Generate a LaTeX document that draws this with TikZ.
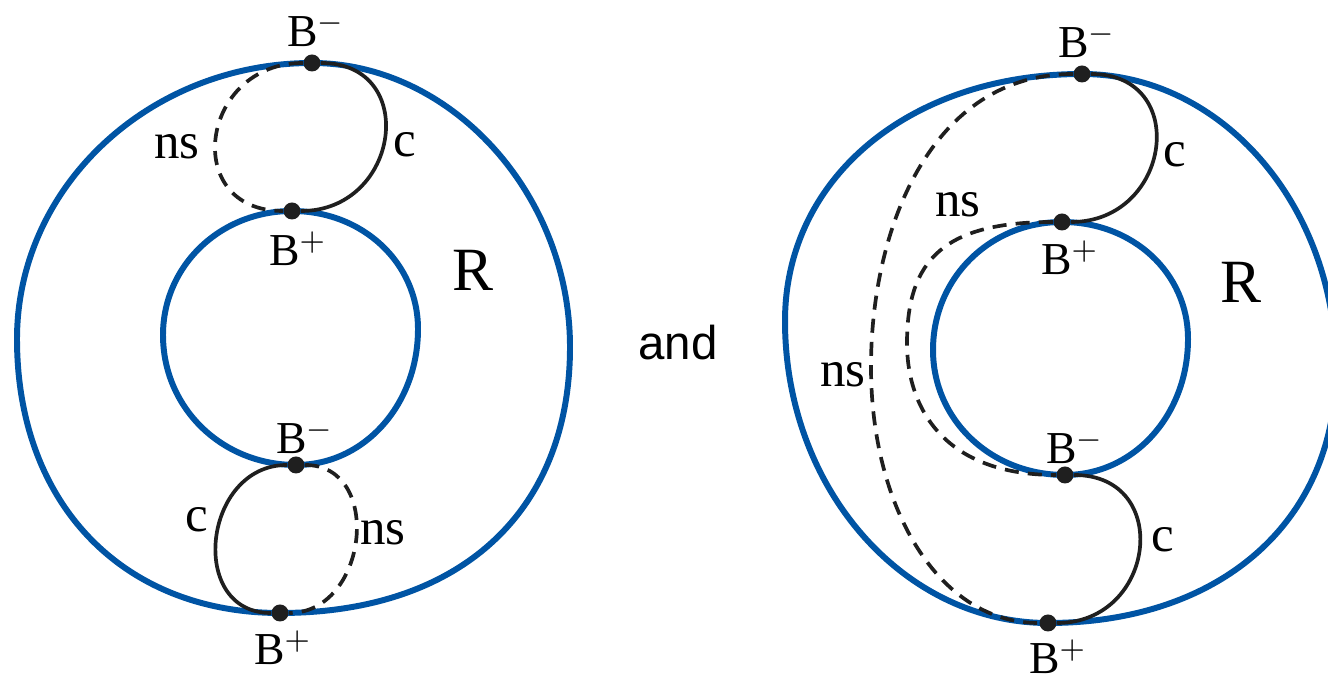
\documentclass[tikz,border=0pt]{standalone}
\usepackage{fontspec}
\setmainfont{Liberation Serif}
\newfontfamily\andfont{Liberation Sans}
\usetikzlibrary{positioning}
\definecolor{ringblue}{RGB}{0,84,164}
\tikzset{
  ring/.style={ringblue,line width=1.7pt},
  cpath/.style={black!88,line width=1.05pt},
  nspath/.style={cpath,dash pattern=on 4pt off 2.6pt},
  bdot/.style={circle,fill=black!88,inner sep=0pt,minimum size=0.17cm},
  blab/.style={inner sep=0pt,font=\fontsize{13}{15}\selectfont},
  clab/.style={inner sep=0pt,font=\fontsize{14.5}{17}\selectfont},
}

\begin{document}
\begin{tikzpicture}
  \useasboundingbox (0,0) rectangle (13.28,6.79);
  % left region
  \draw[ring] (3.12,6.16) .. controls (4.51,6.16) and (5.70,4.85) .. (5.70,3.32)
    .. controls (5.70,1.67) and (4.60,0.66) .. (2.80,0.66)
    .. controls (1.22,0.66) and (0.17,1.76) .. (0.17,3.40)
    .. controls (0.17,4.92) and (1.49,6.16) .. cycle;
  \draw[ring] (2.92,4.68) .. controls (3.63,4.68) and (4.18,4.16) .. (4.18,3.50)
    .. controls (4.18,2.74) and (3.64,2.14) .. (2.96,2.14)
    .. controls (2.22,2.14) and (1.63,2.71) .. (1.63,3.44)
    .. controls (1.63,4.13) and (2.20,4.68) .. cycle;
  \node[bdot] (lBmA) at (3.12,6.16) {};
  \node[bdot] (lBpA) at (2.92,4.68) {};
  \node[bdot] (lBmB) at (2.96,2.14) {};
  \node[bdot] (lBpB) at (2.80,0.66) {};
  \draw[cpath] (lBmA) .. controls +(1.08,0) and +(1.08,0) .. (lBpA);
  \draw[nspath] (lBmA) .. controls +(-1.12,0) and +(-1.12,0) .. (lBpA);
  \draw[cpath] (lBmB) .. controls +(-0.93,0) and +(-0.93,0) .. (lBpB);
  \draw[nspath] (lBmB) .. controls +(0.88,0) and +(0.88,0) .. (lBpB);
  \node[blab] (lLmA) at (3.16,6.49) {B$^{-}$};
  \node[blab] (lLpA) at (2.98,4.30) {B$^{+}$};
  \node[blab] (lLmB) at (3.05,2.42) {B$^{-}$};
  \node[blab] (lLpB) at (2.83,0.31) {B$^{+}$};
  \node[clab] (lNsA) at (1.77,5.32) {ns};
  \node[clab] (lCA) at (4.05,5.34) {c};
  \node[clab] (lCB) at (1.97,1.59) {c};
  \node[clab] (lNsB) at (3.83,1.46) {ns};
  \node[clab,font=\fontsize{17.5}{20}\selectfont] (lR) at (4.73,4.09) {R};

  \node[font=\andfont\fontsize{13.5}{16}\selectfont] (and) at (6.78,3.36) {and};

  % right region
  \draw[ring] (10.82,6.05) .. controls (12.22,6.05) and (13.36,4.73) .. (13.36,3.10)
    .. controls (13.36,1.58) and (12.21,0.56) .. (10.48,0.56)
    .. controls (9.03,0.56) and (7.85,1.91) .. (7.85,3.58)
    .. controls (7.85,5.01) and (9.10,6.05) .. cycle;
  \draw[ring] (10.62,4.57) .. controls (11.33,4.57) and (11.88,4.06) .. (11.88,3.40)
    .. controls (11.88,2.64) and (11.34,2.04) .. (10.65,2.04)
    .. controls (9.91,2.04) and (9.33,2.59) .. (9.33,3.29)
    .. controls (9.33,4.01) and (9.90,4.57) .. cycle;
  \node[bdot] (rBmA) at (10.82,6.05) {};
  \node[bdot] (rBpA) at (10.62,4.57) {};
  \node[bdot] (rBmB) at (10.65,2.04) {};
  \node[bdot] (rBpB) at (10.48,0.56) {};
  \coordinate (rOuterW) at (8.71,3.12);
  \coordinate (rInnerW) at (9.07,3.36);
  \draw[cpath] (rBmA) .. controls +(1.09,0) and +(1.09,0) .. (rBpA);
  \draw[cpath] (rBmB) .. controls +(1.08,0) and +(1.08,0) .. (rBpB);
  \draw[nspath] (rBmA) .. controls +(-1.5,0) and +(0,1.4) .. (rOuterW)
    .. controls +(0,-1.4) and +(-1.1,0) .. (rBpB);
  \draw[nspath] (rBpA) .. controls +(-1.17,0) and +(0,0.84) .. (rInnerW)
    .. controls +(0,-0.66) and +(-1.2,0) .. (rBmB);
  \node[blab] (rLmA) at (10.87,6.38) {B$^{-}$};
  \node[blab] (rLpA) at (10.70,4.21) {B$^{+}$};
  \node[blab] (rLmB) at (10.75,2.32) {B$^{-}$};
  \node[blab] (rLpB) at (10.58,0.22) {B$^{+}$};
  \node[clab] (rCA) at (11.75,5.24) {c};
  \node[clab] (rCB) at (11.63,1.39) {c};
  \node[clab] (rNsA) at (9.58,4.74) {ns};
  \node[clab] (rNsB) at (8.43,3.04) {ns};
  \node[clab,font=\fontsize{17.5}{20}\selectfont] (rR) at (12.41,3.97) {R};
\end{tikzpicture}
\end{document}
